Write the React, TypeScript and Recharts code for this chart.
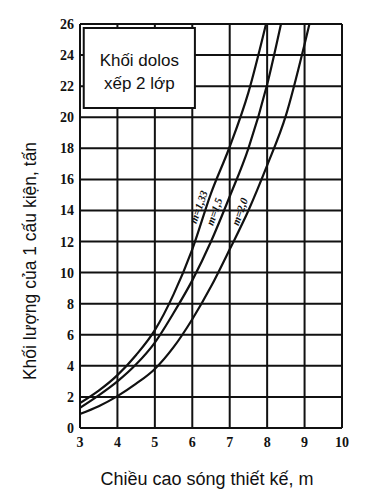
import {
  CartesianGrid,
  Line,
  LineChart,
  ReferenceArea,
  ReferenceDot,
  XAxis,
  YAxis,
} from 'recharts';

// design wave height (m) on x, block weight (t) on y
const heightTicks = [3, 4, 5, 6, 7, 8, 9, 10];
const weightTicks = [0, 2, 4, 6, 8, 10, 12, 14, 16, 18, 20, 22, 24, 26];

const heights133 = [3, 3.5, 4, 4.5, 5, 5.5, 6, 6.5, 7, 7.5, 7.97];
const weights133 = [1.6, 2.4, 3.4, 4.7, 6.3, 8.6, 11.5, 15.1, 18.1, 21.6, 26];

const heights15 = [3, 3.5, 4, 4.5, 5, 5.5, 6, 6.5, 7, 7.5, 8, 8.37];
const weights15 = [1.3, 2.1, 3.0, 4.1, 5.5, 7.4, 9.5, 12.0, 14.9, 18, 22.1, 26];

const heights20 = [3, 3.5, 4, 4.5, 5, 5.5, 6, 6.5, 7, 7.5, 8, 8.5, 9, 9.13];
const weights20 = [0.9, 1.4, 2.05, 2.85, 3.8, 5.2, 7.0, 9.1, 11.5, 14.0, 16.9, 20.1, 24.7, 26];

const curveNames = ['m=1,33', 'm=1,5', 'm=2,0'];
const curveLabelH = [6.2, 6.62, 7.3];
const curveLabelW = [14.2, 13.9, 13.9];

const boxLines = ['Khối dolos', 'xếp 2 lớp'];
const xTitle = 'Chiều cao sóng thiết kế, m';
const yTitle = 'Khối lượng của 1 cấu kiện, tấn';

const toPoints = (hs: number[], ws: number[]) => hs.map((h, i) => ({ h, w: ws[i] }));

const series = [
  toPoints(heights133, weights133),
  toPoints(heights15, weights15),
  toPoints(heights20, weights20),
];

const sans = '"Liberation Sans", Arial, sans-serif';
const tickFont = { fontFamily: '"Liberation Serif", serif', fontWeight: 700, fontSize: 14, fill: '#111' };

function BoxLabel({ viewBox }: any) {
  const cx = viewBox.x + viewBox.width / 2;
  return (
    <g fontFamily={sans} fontSize={17} fill="#111" textAnchor="middle">
      <text x={cx} y={viewBox.y + 38}>{boxLines[0]}</text>
      <text x={cx} y={viewBox.y + 61}>{boxLines[1]}</text>
    </g>
  );
}

export default function App() {
  return (
    <div style={{ position: 'absolute', left: 0, top: 0, width: 366, height: 493, background: '#fff' }}>
      <LineChart width={366} height={493} margin={{ top: 24, right: 24, left: 50, bottom: 35 }}>
        <CartesianGrid stroke="#111" strokeWidth={2} />
        <XAxis
          type="number"
          dataKey="h"
          domain={[3, 10]}
          ticks={heightTicks}
          axisLine={false}
          tickLine={false}
          tickSize={0}
          tickMargin={9}
          height={30}
          tick={tickFont}
          allowDataOverflow
        />
        <YAxis
          type="number"
          dataKey="w"
          domain={[0, 26]}
          ticks={weightTicks}
          axisLine={false}
          tickLine={false}
          tickSize={0}
          tickMargin={6}
          width={30}
          tick={tickFont}
          allowDataOverflow
        />
        <ReferenceArea
          x1={3.1}
          x2={6.07}
          y1={20.6}
          y2={25.75}
          fill="#fff"
          fillOpacity={1}
          stroke="#111"
          strokeWidth={2}
          label={(props: any) => <BoxLabel {...props} />}
        />
        {series.map((data, i) => (
          <Line
            key={curveNames[i]}
            data={data}
            dataKey="w"
            type="monotone"
            stroke="#111"
            strokeWidth={2.2}
            dot={false}
            isAnimationActive={false}
          />
        ))}
        {curveNames.map((name, i) => (
          <ReferenceDot
            key={name}
            x={curveLabelH[i]}
            y={curveLabelW[i]}
            r={0}
            shape={(p: any) => (
              <text
                x={p.cx}
                y={p.cy}
                transform={`rotate(-70 ${p.cx} ${p.cy})`}
                textAnchor="middle"
                dominantBaseline="middle"
                fontFamily='"Liberation Serif", serif'
                fontStyle="italic"
                fontWeight={700}
                fontSize={11}
                fill="#111"
              >
                {name}
              </text>
            )}
          />
        ))}
        <text x={207} y={485} textAnchor="middle" fontFamily={sans} fontSize={18} fill="#111">
          {xTitle}
        </text>
        <text
          x={36}
          y={261}
          transform="rotate(-90 36 261)"
          textAnchor="middle"
          fontFamily={sans}
          fontSize={17.5}
          fill="#111"
        >
          {yTitle}
        </text>
      </LineChart>
    </div>
  );
}
